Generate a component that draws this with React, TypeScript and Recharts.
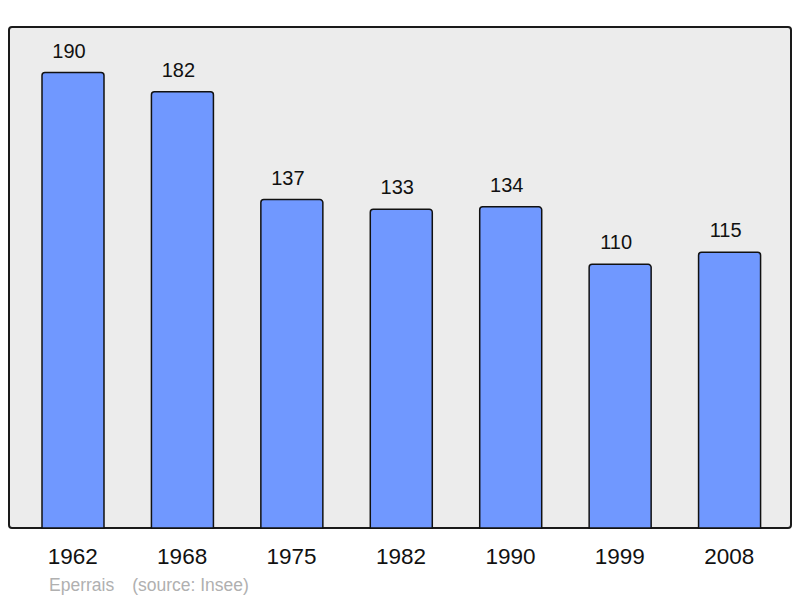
import { BarChart, Bar, XAxis, YAxis, LabelList } from 'recharts';

const years = ['1962', '1968', '1975', '1982', '1990', '1999', '2008'];
const population = [190, 182, 137, 133, 134, 110, 115];

const data = years.map((year, i) => ({ year, population: population[i] }));

const FONT = '"Liberation Sans", Arial, sans-serif';

export default function App() {
    return (
        <div style={{ position: 'absolute', left: 0, top: 0, width: 800, height: 598, fontFamily: FONT }}>
            {/* plot frame */}
            <div
                style={{
                    position: 'absolute',
                    left: 8,
                    top: 26,
                    width: 780,
                    height: 499,
                    background: '#ececec',
                    border: '2px solid #1a1a1a',
                    borderRadius: 4,
                }}
            />
            <div style={{ position: 'absolute', left: 0, top: 0 }}>
                <BarChart
                    width={800}
                    height={598}
                    data={data}
                    margin={{ top: 27, right: 9, bottom: 0, left: 9 }}
                    barSize={62}
                >
                    <XAxis
                        dataKey="year"
                        height={70}
                        axisLine={false}
                        tickLine={false}
                        tickSize={0}
                        tickMargin={20}
                        padding={{ left: 9, right: 7 }}
                        tick={{ fontSize: 22.5, fill: '#111', fontFamily: FONT }}
                    />
                    <YAxis hide domain={[0, 209]} />
                    <Bar
                        dataKey="population"
                        fill="#7098ff"
                        stroke="#111"
                        strokeWidth={1.5}
                        radius={[3, 3, 0, 0]}
                        isAnimationActive={false}
                    >
                        <LabelList
                            dataKey="population"
                            position="top"
                            offset={15}
                            dx={-4}
                            style={{ fontSize: 20, fill: '#111', fontFamily: FONT }}
                        />
                    </Bar>
                </BarChart>
            </div>
            <div
                style={{
                    position: 'absolute',
                    left: 49,
                    top: 575,
                    fontSize: 17.5,
                    color: '#b0b0b0',
                    whiteSpace: 'pre',
                }}
            >
                <span>Eperrais</span>
                <span style={{ marginLeft: 18 }}>(source: Insee)</span>
            </div>
        </div>
    );
}
